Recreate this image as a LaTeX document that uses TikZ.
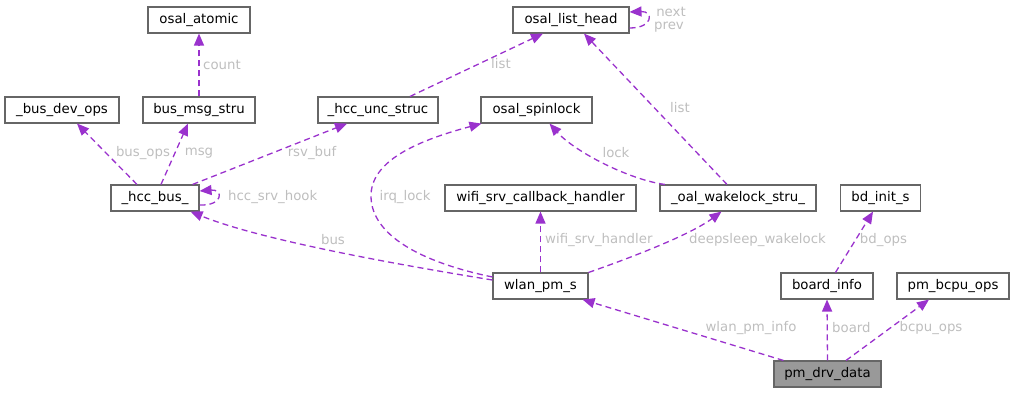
\documentclass[tikz,border=0pt]{standalone}
\usepackage{fontspec}
\setmainfont{DejaVu Sans}
\usetikzlibrary{arrows.meta,calc}
\definecolor{edgec}{HTML}{9A32CD}
\definecolor{boxc}{HTML}{666666}
\definecolor{labc}{HTML}{BEBEBE}
\definecolor{curc}{HTML}{999999}
\tikzset{
  cls/.style={draw=boxc,line width=1.1pt,fill=white,rectangle,inner sep=0pt,minimum height=26pt,font=\fontsize{13.3}{16}\selectfont,text=black},
  rel/.style={draw=edgec,line width=1.3pt,dash pattern=on 6pt off 4pt,-{Triangle[length=12pt,width=10pt]}},
  lab/.style={text=labc,inner sep=0pt,font=\fontsize{13.3}{16}\selectfont}
}
\begin{document}
\begin{tikzpicture}[x=1pt,y=-1pt]
\useasboundingbox (0,0) rectangle (1013,392);
% nodes
\node[cls,minimum width=102pt] (atomic) at (199,20) {osal\_atomic};
\node[cls,minimum width=116pt] (listhead) at (571,20) {osal\_list\_head};
\node[cls,minimum width=114pt] (busdevops) at (62,110) {\_bus\_dev\_ops};
\node[cls,minimum width=112pt] (busmsg) at (199,110) {bus\_msg\_stru};
\node[cls,minimum width=120pt] (hccunc) at (378,110) {\_hcc\_unc\_struc};
\node[cls,minimum width=111pt] (spinlock) at (536.5,110) {osal\_spinlock};
\node[cls,minimum width=88pt] (hccbus) at (155,198) {\_hcc\_bus\_};
\node[cls,minimum width=191pt] (wifisrv) at (540.5,198) {wifi\_srv\_callback\_handler};
\node[cls,minimum width=156pt] (wakelock) at (738,198) {\_oal\_wakelock\_stru\_};
\node[cls,minimum width=80pt] (bdinit) at (880.5,198) {bd\_init\_s};
\node[cls,minimum width=95pt] (wlanpm) at (540.5,286) {wlan\_pm\_s};
\node[cls,minimum width=92pt] (boardinfo) at (827,286) {board\_info};
\node[cls,minimum width=112pt] (pmbcpu) at (953,286) {pm\_bcpu\_ops};
\node[cls,minimum width=107pt,fill=curc] (pmdrv) at (827.5,374) {pm\_drv\_data};
% edges
\draw[rel] (busmsg.north) -- (atomic.south);
\node[lab,anchor=west] (lcount) at (203,65) {count};
\draw[rel] ($(hccbus.north)+(-18,0)$) -- ($(busdevops.south)+(15,0)$);
\node[lab] (lbusops) at (143,153) {bus\_ops};
\draw[rel] ($(hccbus.north)+(6,0)$) -- ($(busmsg.south)+(-11,0)$);
\node[lab] (lmsg) at (199,153) {msg};
\draw[rel] ($(hccbus.north east)+(-7,0)$) -- ($(hccunc.south)+(-31,0)$);
\node[lab] (lrsv) at (312,153) {rsv\_buf};
\draw[rel] ($(hccbus.east)+(0,7)$) .. controls ($(hccbus.east)+(24,8)$) and ($(hccbus.east)+(24,-9)$) .. ($(hccbus.east)+(0,-7)$);
\node[lab,anchor=west] (lhook) at (228,197) {hcc\_srv\_hook};
\draw[rel] ($(hccunc.north)+(32,0)$) -- ($(listhead.south)+(-28,0)$);
\node[lab] (llist1) at (501,64) {list};
\draw[rel] ($(listhead.east)+(0,8)$) .. controls ($(listhead.east)+(24,8)$) and ($(listhead.east)+(24,-9)$) .. ($(listhead.east)+(0,-8)$);
\node[lab] (lnext) at (671,12) {next};
\node[lab] (lprev) at (669,27) {prev};
\draw[rel] ($(wakelock.north)+(-11,0)$) -- ($(listhead.south)+(13,0)$);
\node[lab] (llist2) at (680,108) {list};
\draw[rel] ($(wakelock.north)+(-73,0)$) .. controls (630,180) and (575,152) .. ($(spinlock.south)+(13,0)$);
\node[lab] (llock) at (616,153) {lock};
\draw[rel] ($(wlanpm.west)+(0,-9)$) .. controls (420,262) and (372,235) .. (371,197) .. controls (370,160) and (420,140) .. ($(spinlock.south west)+(1,0)$);
\node[lab] (lirq) at (405,197) {irq\_lock};
\draw[rel] ($(wlanpm.west)+(0,-6)$) .. controls (400,265) and (260,240) .. ($(hccbus.south east)+(-9,0)$);
\node[lab] (lbus) at (333,240) {bus};
\draw[rel] (wlanpm.north) -- (wifisrv.south);
\node[lab,anchor=west] (lwifi) at (545,240) {wifi\_srv\_handler};
\draw[rel] (wlanpm.north east) .. controls (630,258) and (690,235) .. ($(wakelock.south)+(-16.5,0)$);
\node[lab] (ldeep) at (757.5,240) {deepsleep\_wakelock};
\draw[rel] ($(boardinfo.north)+(8.5,0)$) -- ($(bdinit.south)+(-7.5,0)$);
\node[lab] (lbdops) at (883.5,240) {bd\_ops};
\draw[rel] ($(pmdrv.north west)+(10,0)$) -- ($(wlanpm.south east)+(-6,0)$);
\node[lab] (lwlaninfo) at (751,328) {wlan\_pm\_info};
\draw[rel] (pmdrv.north) -- (boardinfo.south);
\node[lab,anchor=west] (lboard) at (832,328) {board};
\draw[rel] ($(pmdrv.north)+(18.5,0)$) -- ($(pmbcpu.south)+(-24,0)$);
\node[lab] (lbcpu) at (931,328) {bcpu\_ops};
\end{tikzpicture}
\end{document}
